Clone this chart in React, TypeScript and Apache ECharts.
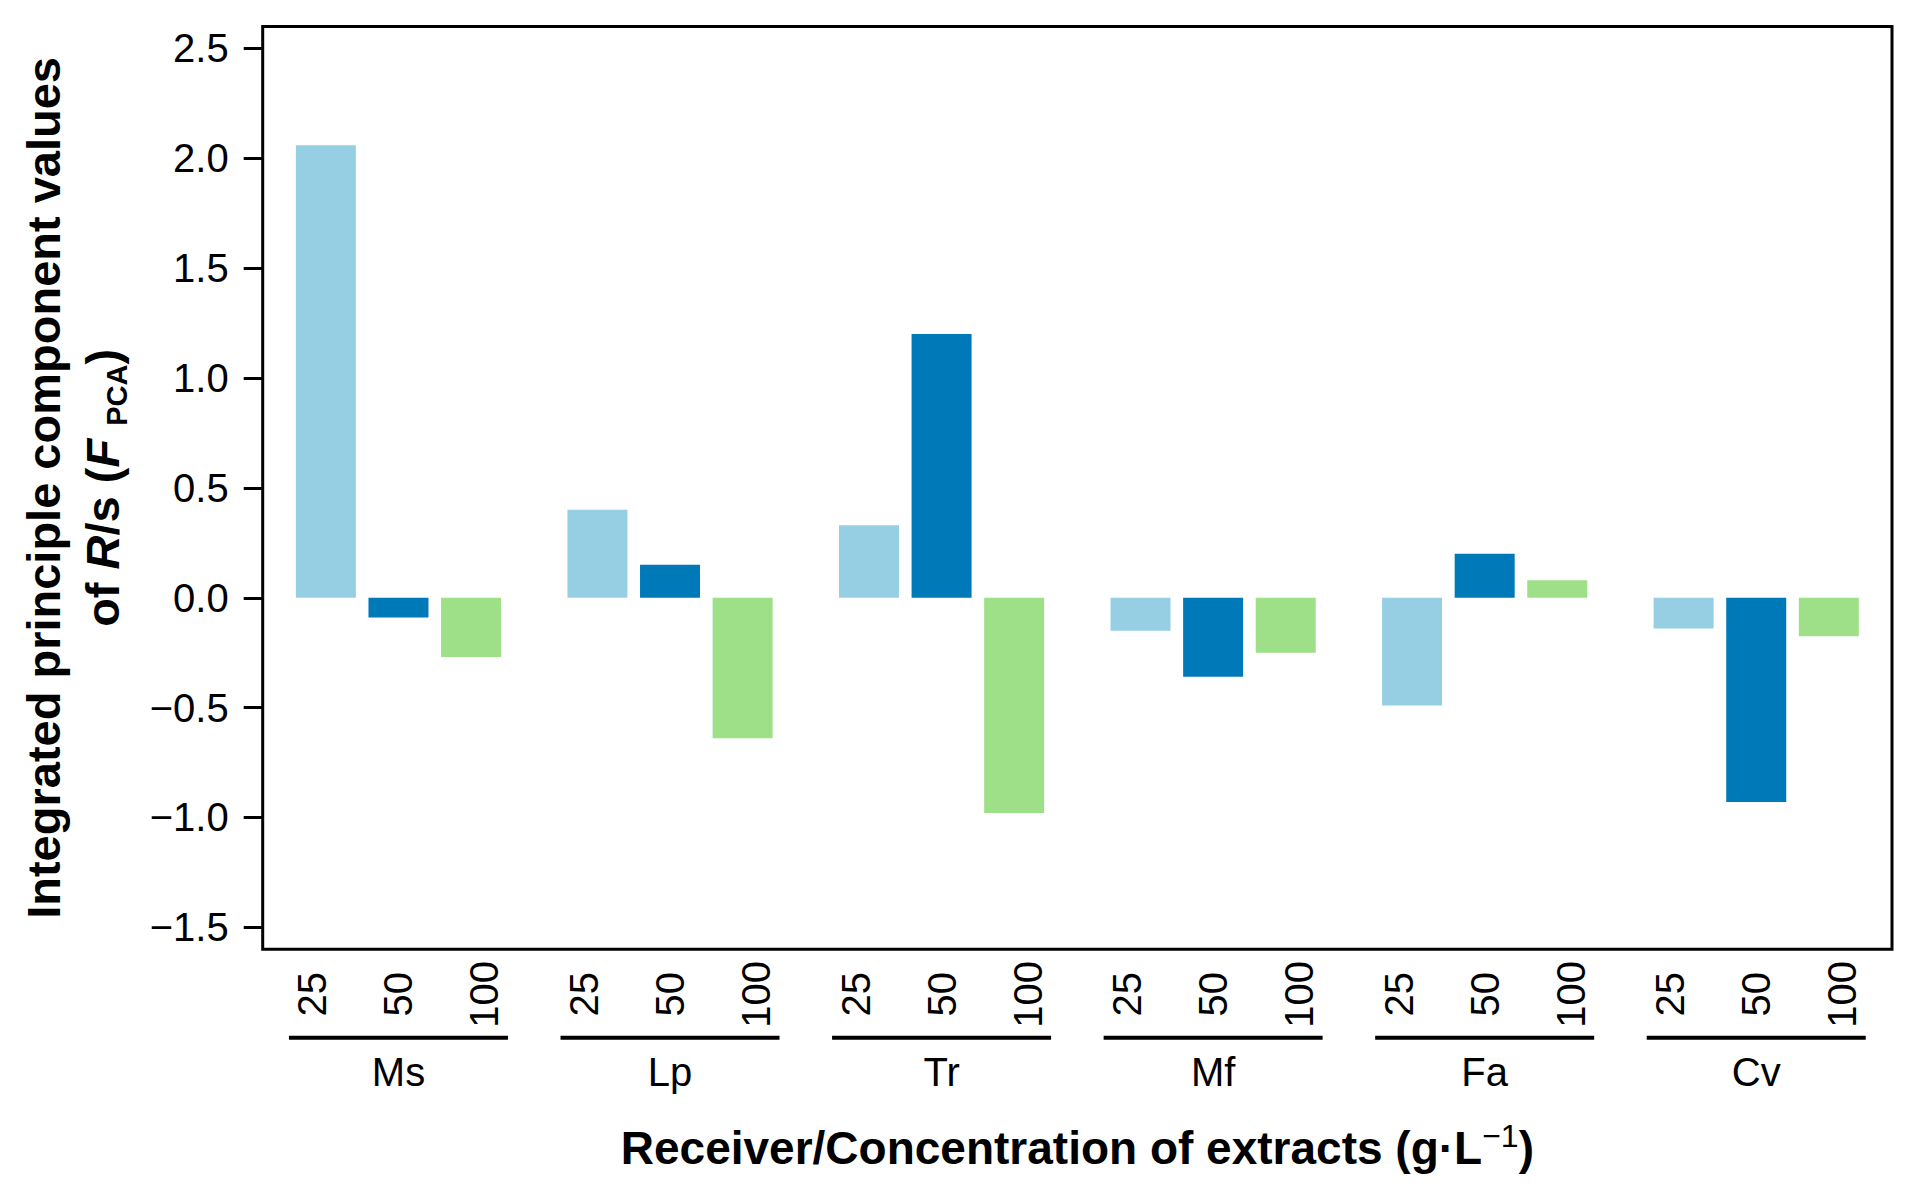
import React, { useEffect, useRef } from 'react';
import * as echarts from 'echarts';

// ---- data ----
const receivers = ['Ms', 'Lp', 'Tr', 'Mf', 'Fa', 'Cv'];
const concentrations = ['25', '50', '100'];
const values25 = [2.06, 0.4, 0.33, -0.15, -0.49, -0.14];
const values50 = [-0.09, 0.15, 1.2, -0.36, 0.2, -0.93];
const values100 = [-0.27, -0.64, -0.98, -0.25, 0.08, -0.175];
const yTicks = [-1.5, -1.0, -0.5, 0, 0.5, 1.0, 1.5, 2.0, 2.5];
const yMin = -1.6;
const yMax = 2.6;

// ---- styles / layout ----
const colors = ['#96CFE4', '#0079B8', '#9EE087'];
const FONT = '"Liberation Sans", Arial, Helvetica, sans-serif';
const W = 1916;
const H = 1195;
const gridLeft = 262.7;
const gridTop = 26.5;
const gridWidth = 1629.3;
const gridHeight = 922.8;
const labelOffsets = [-86, 0, 86];

const fmtY = (v: number) => (v < 0 ? '\u2212' : '') + Math.abs(v).toFixed(1);

export default function App() {
  const ref = useRef<HTMLDivElement>(null);

  useEffect(() => {
    document.body.style.margin = '0';
    if (!ref.current) return;
    const chart = echarts.init(ref.current, undefined, { renderer: 'svg' });

    const grids: any[] = [
      {
        left: gridLeft,
        top: gridTop,
        width: gridWidth,
        height: gridHeight,
        show: true,
        borderColor: '#000',
        borderWidth: 3,
        backgroundColor: 'transparent',
        outerBoundsMode: 'none',
      },
      ...labelOffsets.map((off) => ({
        left: gridLeft + off,
        top: gridTop,
        width: gridWidth,
        height: gridHeight,
        show: false,
        outerBoundsMode: 'none',
      })),
    ];

    const xAxes: any[] = [
      {
        type: 'category',
        gridIndex: 0,
        data: receivers,
        axisLine: { show: false, onZero: false },
        axisTick: { show: false },
        splitLine: { show: false },
        axisLabel: {
          interval: 0,
          margin: 86.4,
          color: '#000',
          fontFamily: FONT,
          formatter: (v: string) => `{line|}\n{name|${v}}`,
          rich: {
            line: { width: 219, height: 4, lineHeight: 4, backgroundColor: '#000' },
            name: { fontSize: 40, lineHeight: 64, color: '#000', fontFamily: FONT },
          },
        },
        name: 'Receiver/Concentration of extracts (g\u00B7L{sup|\u22121})',
        nameLocation: 'middle',
        nameGap: 171,
        nameMoveOverlap: false,
        nameTextStyle: {
          fontFamily: FONT,
          fontSize: 46,
          fontWeight: 'bold',
          color: '#000',
          lineHeight: 56,
          rich: {
            sup: {
              fontFamily: FONT,
              fontSize: 32,
              fontWeight: 'normal',
              color: '#000',
              lineHeight: 14,
              verticalAlign: 'top',
            },
          },
        },
      },
      ...concentrations.map((c, i) => ({
        type: 'category',
        gridIndex: i + 1,
        data: receivers.map(() => c),
        axisLine: { show: false, onZero: false },
        axisTick: { show: false },
        splitLine: { show: false },
        axisLabel: {
          interval: 0,
          rotate: 90,
          align: 'center',
          verticalAlign: 'middle',
          margin: 45,
          fontSize: 40,
          fontFamily: FONT,
          color: '#000',
        },
      })),
    ];

    const yAxes: any[] = [
      {
        type: 'value',
        gridIndex: 0,
        min: yMin,
        max: yMax,
        axisLine: { show: false },
        axisTick: {
          show: true,
          length: 19,
          customValues: yTicks,
          lineStyle: { color: '#000', width: 3 },
        },
        axisLabel: {
          customValues: yTicks,
          margin: 34,
          fontSize: 40,
          fontFamily: FONT,
          color: '#000',
          formatter: fmtY,
        },
        splitLine: { show: false },
        name: 'Integrated principle component values\nof {i|R}/s ({i|F} {sub|PCA})',
        nameLocation: 'middle',
        nameGap: 131,
        nameMoveOverlap: false,
        nameTextStyle: {
          fontFamily: FONT,
          fontSize: 47,
          fontWeight: 'bold',
          color: '#000',
          lineHeight: 59,
          align: 'center',
          rich: {
            i: {
              fontFamily: FONT,
              fontSize: 47,
              fontWeight: 'bold',
              fontStyle: 'italic',
              color: '#000',
              lineHeight: 59,
            },
            sub: {
              fontFamily: FONT,
              fontSize: 29,
              fontWeight: 'bold',
              color: '#000',
              lineHeight: 25,
              verticalAlign: 'bottom',
            },
          },
        },
      },
      ...concentrations.map((_, i) => ({
        type: 'value',
        gridIndex: i + 1,
        min: 0,
        max: 1,
        show: false,
      })),
    ];

    const seriesValues = [values25, values50, values100];

    chart.setOption({
      animation: false,
      backgroundColor: '#fff',
      textStyle: { fontFamily: FONT },
      grid: grids,
      xAxis: xAxes,
      yAxis: yAxes,
      series: seriesValues.map((vals, i) => ({
        type: 'bar',
        name: concentrations[i],
        xAxisIndex: 0,
        yAxisIndex: 0,
        data: vals,
        barWidth: 60,
        barGap: '21%',
        itemStyle: { color: colors[i] },
        emphasis: { disabled: true },
      })),
    });

    return () => chart.dispose();
  }, []);

  return <div ref={ref} style={{ width: W, height: H }} />;
}
